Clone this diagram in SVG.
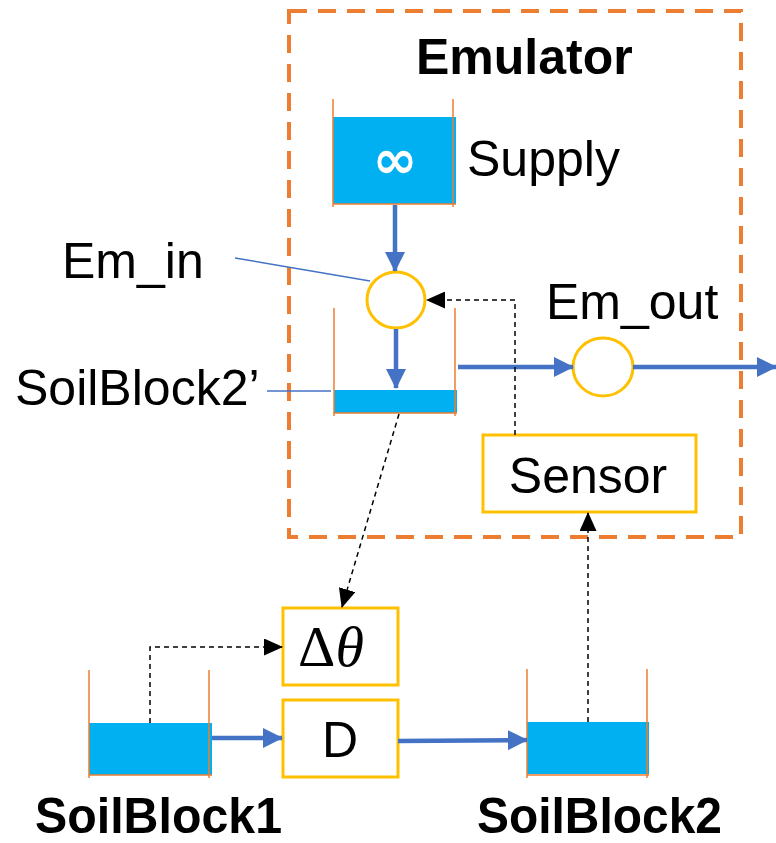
<svg xmlns="http://www.w3.org/2000/svg" width="776" height="843" viewBox="0 0 776 843">
<style>
.lbl{font-family:"Liberation Sans",Arial,sans-serif;font-size:50px;fill:#000}
.bold{font-weight:bold}
.side{stroke:#ED7D31;stroke-width:1.5;fill:none}
.water{fill:#00B0F0}
.gold{fill:#fff;stroke:#FFC000;stroke-width:3}
.flow{stroke:#4472C4;stroke-width:4.5;fill:none}
.lead{stroke:#4472C4;stroke-width:1.5;fill:none}
.sig{stroke:#000;stroke-width:1.5;stroke-dasharray:5 4;fill:none}
</style>
<defs>
<marker id="ab" viewBox="0 0 20 20" refX="19" refY="10" markerWidth="20" markerHeight="20" orient="auto" markerUnits="userSpaceOnUse">
<path d="M0,0 L20,10 L0,20 z" fill="#4472C4"/>
</marker>
<marker id="ak" viewBox="0 0 19 17" refX="18" refY="8.5" markerWidth="19" markerHeight="17" orient="auto" markerUnits="userSpaceOnUse">
<path d="M0,0 L19,8.5 L0,17 z" fill="#000"/>
</marker>
</defs>
<rect width="776" height="843" fill="#fff"/>

<g id="emulator">
<rect x="289" y="11" width="452" height="526" fill="none" stroke="#ED7D31" stroke-width="4" stroke-dasharray="18 11"/>
<text class="lbl bold" x="416" y="74" font-size="51">Emulator</text>
</g>

<g id="supply">
<rect class="water" x="333" y="117" width="123" height="87"/>
<path class="side" d="M333,99 V207 M453,99 V207 M333,204 H456"/>
<text x="395" y="178" text-anchor="middle" font-family="DejaVu Sans,sans-serif" font-weight="bold" font-size="54" fill="#fff">∞</text>
<text class="lbl" x="467" y="176" font-size="52">Supply</text>
</g>

<g id="em_in">
<ellipse class="gold" cx="396" cy="300" rx="29" ry="28"/>
<text class="lbl" x="62" y="278">Em_in</text>
</g>

<g id="soilblock2p">
<rect class="water" x="334" y="390" width="123" height="23"/>
<path class="side" d="M334,308 V416 M455,308 V416 M334,413 H457"/>
<text class="lbl" x="15" y="405">SoilBlock2’</text>
</g>

<g id="em_out">
<ellipse class="gold" cx="603" cy="367" rx="30" ry="29"/>
<text class="lbl" x="546" y="319" font-size="52">Em_out</text>
</g>

<g id="sensor">
<rect class="gold" x="483" y="435" width="213" height="77"/>
<text class="lbl" x="588" y="493" text-anchor="middle">Sensor</text>
</g>

<g id="dtheta">
<rect class="gold" x="283" y="608" width="115" height="77"/>
<text x="331" y="666" text-anchor="middle" font-family="Liberation Serif,serif" font-size="58" fill="#000">Δ<tspan font-style="italic">θ</tspan></text>
</g>

<g id="d">
<rect class="gold" x="283" y="700" width="115" height="77"/>
<text class="lbl" x="340" y="757" text-anchor="middle" font-size="42">D</text>
</g>

<g id="soilblock1">
<rect class="water" x="89" y="723" width="123" height="52"/>
<path class="side" d="M89,670 V778 M209,670 V778 M89,775 H212"/>
<text class="lbl bold" x="35" y="833" font-size="46" textLength="247" lengthAdjust="spacingAndGlyphs">SoilBlock1</text>
</g>

<g id="soilblock2">
<rect class="water" x="527" y="722" width="122" height="52"/>
<path class="side" d="M527,669 V778 M647,669 V778 M527,775 H649"/>
<text class="lbl bold" x="477" y="833" font-size="46" textLength="245" lengthAdjust="spacingAndGlyphs">SoilBlock2</text>
</g>

<g id="connectors">
<line class="flow" x1="395" y1="205" x2="395" y2="271" marker-end="url(#ab)"/>
<line class="flow" x1="396" y1="329" x2="396" y2="388" marker-end="url(#ab)"/>
<line class="flow" x1="458" y1="367" x2="573" y2="367" marker-end="url(#ab)"/>
<line class="flow" x1="633" y1="367" x2="776" y2="367" marker-end="url(#ab)"/>
<line class="flow" x1="212" y1="738" x2="282" y2="738" marker-end="url(#ab)"/>
<line class="flow" x1="398" y1="741" x2="527" y2="740" marker-end="url(#ab)"/>
<line class="lead" x1="235" y1="258" x2="370" y2="281"/>
<line class="lead" x1="267" y1="391" x2="331" y2="391"/>
<path class="sig" d="M515,435 V300 H427" marker-end="url(#ak)"/>
<path class="sig" d="M399,414 L342,607" marker-end="url(#ak)"/>
<path class="sig" d="M150,723 V647 H282" marker-end="url(#ak)"/>
<path class="sig" d="M588,722 V513" marker-end="url(#ak)"/>
</g>
</svg>
